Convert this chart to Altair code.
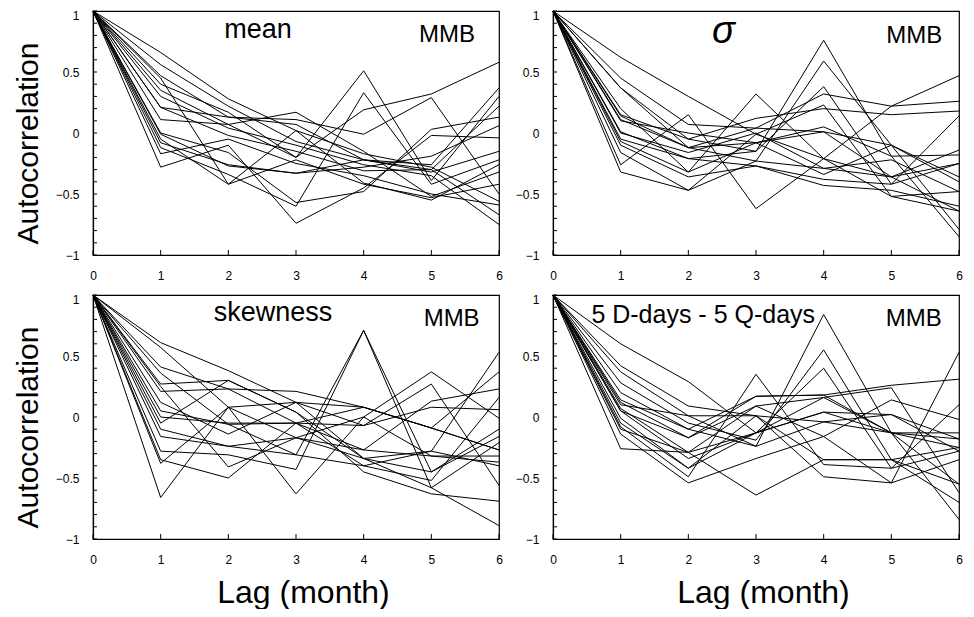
import altair as alt
import pandas as pd

lags = [0, 1, 2, 3, 4, 5, 6]

# autocorrelation series (lag 0..6)
mean_series = [
    [1, 0.66, 0.28, 0.02, -0.17, -0.28, -0.56],
    [1, 0.56, 0.22, -0.07, -0.22, -0.30, -0.67],
    [1, 0.47, 0.13, 0.11, -0.01, 0.29, -0.50],
    [1, 0.40, 0.17, -0.20, 0.19, 0.32, 0.58],
    [1, 0.35, 0.07, 0.17, -0.15, -0.52, -0.32],
    [1, 0.30, 0.04, -0.10, -0.26, -0.35, -0.75],
    [1, 0.21, 0.13, 0.07, -0.22, -0.26, 0.37],
    [1, 0.21, -0.02, -0.15, -0.31, -0.30, 0.22],
    [1, 0.11, 0.07, -0.20, 0.51, -0.39, 0.30],
    [1, 0.00, -0.16, -0.57, -0.48, 0.03, 0.13],
    [1, -0.01, -0.27, -0.33, -0.22, -0.32, -0.15],
    [1, -0.05, -0.42, -0.22, -0.42, -0.53, -0.42],
    [1, -0.08, -0.26, -0.33, -0.28, -0.19, 0.06],
    [1, -0.12, -0.34, -0.60, 0.33, -0.42, -0.22],
    [1, -0.17, -0.05, -0.25, -0.35, -0.50, -0.59],
    [1, -0.28, -0.10, -0.74, -0.45, -0.02, -0.04],
    [1, 0.45, -0.42, 0.02, -0.41, -0.55, -0.26],
]

sigma_series = [
    [1, 0.62, 0.30, -0.01, -0.21, -0.36, -0.64],
    [1, 0.45, 0.07, 0.04, 0.01, -0.10, -0.40],
    [1, 0.37, -0.05, -0.15, 0.76, -0.19, -0.85],
    [1, 0.37, -0.12, -0.23, 0.59, -0.10, -0.79],
    [1, 0.15, -0.05, 0.12, 0.20, 0.15, 0.18],
    [1, 0.11, -0.12, 0.04, 0.32, 0.22, 0.26],
    [1, 0.10, 0.00, -0.08, 0.05, -0.19, -0.18],
    [1, 0.01, -0.21, -0.15, 0.38, -0.42, 0.14],
    [1, -0.07, -0.32, -0.08, 0.01, -0.36, -0.25],
    [1, -0.10, -0.36, -0.27, -0.43, -0.47, -0.60],
    [1, -0.16, -0.47, -0.01, 0.23, -0.52, -0.48],
    [1, -0.26, 0.15, -0.62, -0.21, 0.22, 0.47],
    [1, -0.32, -0.47, -0.23, -0.29, -0.36, -0.14],
    [1, 0.14, -0.12, -0.08, -0.34, -0.10, -0.36],
    [1, 0.20, -0.32, 0.32, -0.21, -0.52, -0.64],
    [1, -0.05, -0.21, -0.27, -0.38, -0.42, -0.25],
    [1, 0.00, -0.16, 0.00, -0.29, -0.22, -0.48],
]

skew_series = [
    [1, 0.61, 0.38, 0.12, 0.08, -0.09, -0.27],
    [1, 0.57, 0.08, -0.17, -0.34, -0.58, -0.89],
    [1, 0.41, 0.23, -0.05, -0.27, -0.32, -0.37],
    [1, 0.36, -0.06, -0.31, 0.71, -0.45, -0.16],
    [1, 0.27, 0.30, 0.04, -0.34, -0.28, 0.53],
    [1, 0.21, 0.23, 0.21, 0.08, -0.09, 0.37],
    [1, 0.12, -0.14, 0.12, -0.07, 0.27, -0.56],
    [1, 0.00, -0.05, -0.05, -0.40, -0.52, 0.16],
    [1, -0.05, 0.30, 0.04, -0.45, -0.63, -0.69],
    [1, -0.16, -0.24, -0.17, 0.00, 0.37, -0.01],
    [1, -0.28, -0.31, -0.43, 0.71, -0.58, -0.21],
    [1, -0.35, -0.50, -0.05, -0.07, 0.08, 0.06],
    [1, -0.38, 0.08, -0.63, 0.00, -0.32, -0.32],
    [1, -0.66, 0.08, 0.12, -0.34, -0.45, -0.10],
    [1, 0.25, -0.41, -0.17, -0.27, 0.13, 0.23],
    [1, -0.10, -0.24, -0.31, -0.40, -0.28, -0.40],
    [1, 0.05, -0.06, -0.05, 0.08, -0.09, -0.27],
]

dq_series = [
    [1, 0.60, 0.29, -0.13, 0.16, -0.13, -0.25],
    [1, 0.42, 0.09, 0.01, -0.35, -0.35, -0.55],
    [1, 0.37, 0.01, -0.24, 0.84, -0.13, -0.84],
    [1, 0.28, -0.05, -0.19, 0.55, -0.35, -0.70],
    [1, 0.14, -0.10, 0.17, 0.18, 0.26, 0.31],
    [1, 0.12, -0.17, 0.09, 0.16, 0.24, -0.62],
    [1, 0.07, -0.29, -0.13, 0.40, -0.42, 0.10],
    [1, 0.05, -0.34, -0.13, 0.04, 0.02, -0.18],
    [1, -0.01, -0.42, 0.01, -0.04, -0.13, -0.13],
    [1, -0.08, -0.49, 0.35, -0.39, -0.42, -0.28],
    [1, -0.10, -0.29, 0.09, -0.16, 0.14, -0.02],
    [1, -0.14, -0.54, -0.34, -0.16, -0.54, 0.53],
    [1, -0.26, -0.29, -0.64, -0.35, -0.35, -0.25],
    [1, 0.10, 0.01, 0.01, -0.49, -0.54, -0.35],
    [1, 0.20, -0.10, -0.24, -0.04, 0.02, -0.28],
    [1, -0.05, -0.42, -0.13, 0.04, -0.13, -0.18],
    [1, 0.05, -0.17, 0.17, 0.18, -0.13, -0.55],
]

panel_titles = ["mean", "σ", "skewness", "5 D-days - 5 Q-days"]
station_label = "MMB"
y_title = "Autocorrelation"
x_title = "Lag (month)"
y_minor_ticks = [round(-1 + 0.1 * i, 1) for i in range(21)]
y_label_values = [-1, -0.5, 0, 0.5, 1]

FONT = "Liberation Sans, Arial, Helvetica, sans-serif"
NARROW = "Liberation Sans Narrow, Arial Narrow, Liberation Sans, sans-serif"
W, H = 406, 244


def long_df(series):
    rows = []
    for s, vals in enumerate(series):
        for lag, v in zip(lags, vals):
            rows.append({"series": s, "lag": lag, "r": v})
    return pd.DataFrame(rows)


def panel(series, title, tx, ty, mx, my, left, bottom, tfont=26, tstyle="normal"):
    xaxis = alt.Axis(
        values=lags, format="d", ticks=False, labelPadding=15, labelFlush=False,
        labelOverlap=False,
        labelFont=NARROW, labelFontSize=12, labelColor="black",
        domainColor="black", grid=False,
        title=x_title if bottom else "",
        titleFont=FONT, titleFontSize=32, titleFontWeight="normal", titleColor="black",
        titleBaseline="alphabetic", titleY=63, titleX=W / 2 + 7,
    )
    yaxis = alt.Axis(
        values=y_label_values, format="~g", ticks=False, labelPadding=14,
        labelOverlap=False,
        labelOffset={"condition": {"test": "datum.value == 1", "value": 4}, "value": 0},
        labelFont=NARROW, labelFontSize=12, labelColor="black",
        domainColor="black", grid=False,
        title=y_title if left else "",
        titleFont=FONT, titleFontSize=30, titleFontWeight="normal", titleColor="black",
        titleBaseline="alphabetic", titleX=-56, titleY=H / 2 + 10, titleAngle=-90,
    )
    xs = alt.Scale(domain=[0, 6], nice=False, zero=False)
    ys = alt.Scale(domain=[-1, 1], nice=False)

    lines = alt.Chart(long_df(series)).mark_line(color="black", strokeWidth=1).encode(
        x=alt.X("lag:Q", scale=xs, axis=xaxis),
        y=alt.Y("r:Q", scale=ys, axis=yaxis),
        detail="series:N",
    )
    # inward minor ticks on the left axis
    yticks = alt.Chart(pd.DataFrame({"v": y_minor_ticks})).mark_tick(
        orient="horizontal", size=4, xOffset=2, color="black", thickness=1, opacity=1,
    ).encode(
        y=alt.Y("v:Q", scale=ys, axis=yaxis),
        x=alt.XDatum(0, scale=xs, axis=xaxis),
    )
    # inward ticks on the bottom axis
    xticks = alt.Chart(pd.DataFrame({"v": lags})).mark_tick(
        orient="vertical", size=5, yOffset=-2.5, color="black", thickness=1, opacity=1,
    ).encode(
        x=alt.X("v:Q", scale=xs, axis=xaxis),
        y=alt.YDatum(-1, scale=ys, axis=yaxis),
    )
    t1 = alt.Chart(pd.DataFrame({"t": [title]})).mark_text(
        font=FONT, fontSize=tfont, fontStyle=tstyle, color="black",
        align="center", baseline="alphabetic",
    ).encode(
        x=alt.XDatum(tx, scale=xs, axis=xaxis),
        y=alt.YDatum(ty, scale=ys, axis=yaxis),
        text="t:N",
    )
    t2 = alt.Chart(pd.DataFrame({"t": [station_label]})).mark_text(
        font=FONT, fontSize=24, color="black", align="center", baseline="alphabetic",
    ).encode(
        x=alt.XDatum(mx, scale=xs, axis=xaxis),
        y=alt.YDatum(my, scale=ys, axis=yaxis),
        text="t:N",
    )
    return alt.layer(lines, yticks, xticks, t1, t2).properties(width=W, height=H)


p1 = panel(mean_series, panel_titles[0], 2.44, 0.78, 5.23, 0.75, True, False, tfont=27)
p2 = panel(sigma_series, panel_titles[1], 2.52, 0.74, 5.34, 0.74, False, False, tfont=38, tstyle="italic")
p3 = panel(skew_series, panel_titles[2], 2.66, 0.79, 5.30, 0.75, True, True, tfont=27)
p4 = panel(dq_series, panel_titles[3], 2.22, 0.77, 5.33, 0.75, False, True, tfont=25)

chart = alt.concat(
    p1, p2, p3, p4, columns=2, spacing={"row": 40, "column": 54}, bounds="flush",
).properties(
    padding={"left": 4, "top": 0, "right": 0, "bottom": 0},
    background="white",
).configure_view(stroke="black", strokeWidth=1.2).configure_axis(domainWidth=1.2)

chart.save("out.html", embed_options={"renderer": "svg", "actions": False})
